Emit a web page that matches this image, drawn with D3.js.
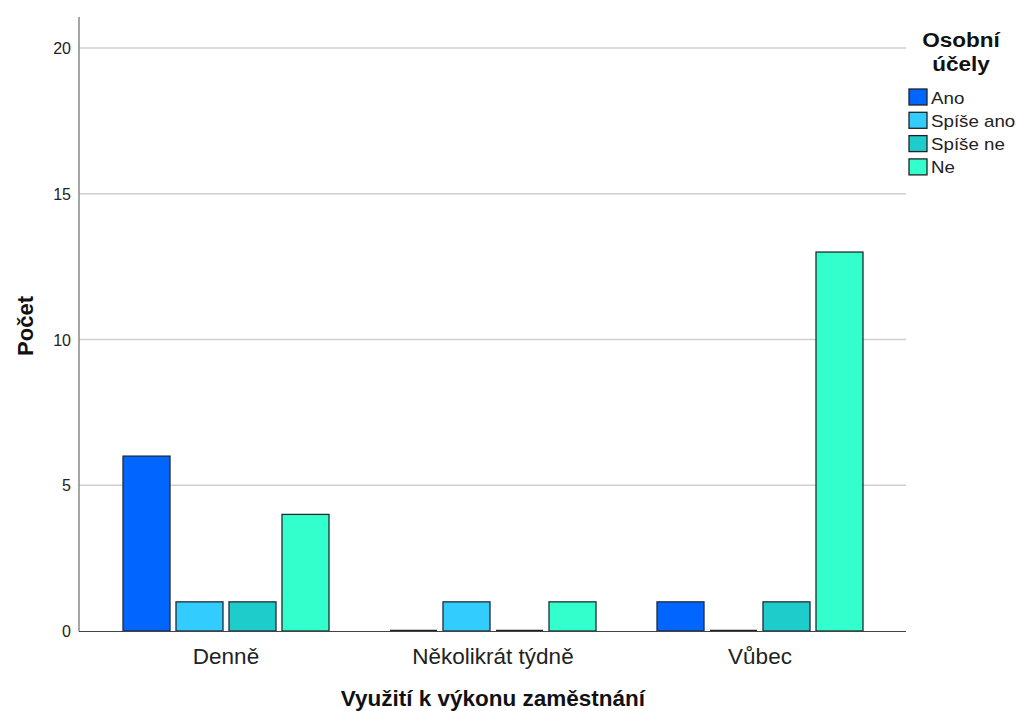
<!DOCTYPE html>
<html><head><meta charset="utf-8">
<script src="https://cdn.jsdelivr.net/npm/d3@7"></script>
<style>body{margin:0;background:#fff}svg{display:block;font-family:"Liberation Sans",Arial,sans-serif}</style>
</head><body>
<svg id="c" width="1016" height="711"></svg>
<script>
const categories = ["Denně", "Několikrát týdně", "Vůbec"];
const seriesNames = ["Ano", "Spíše ano", "Spíše ne", "Ne"];
const seriesColors = ["#0066ff", "#33ccff", "#1fcccc", "#33ffcc"];
const values = [
  [6, 0, 1],   // Ano
  [1, 1, 0],   // Spíše ano
  [1, 0, 1],   // Spíše ne
  [4, 1, 13]   // Ne
];
const yTicks = [0, 5, 10, 15, 20];

const svg = d3.select("#c");
const x0 = d3.scaleBand().domain(categories).range([92.5, 893.5]).paddingInner(0).paddingOuter(0);
const y = d3.scaleLinear().domain([0, 20]).range([631, 48]);
const slotW = 53, barW = 47;
const x1 = d3.scaleBand().domain(seriesNames).range([0, slotW * 4]);

// gridlines
svg.append("g").selectAll("line").data(yTicks.filter(d => d > 0)).join("line")
  .attr("x1", 79).attr("x2", 906).attr("y1", d => y(d)).attr("y2", d => y(d))
  .attr("stroke", "#cfcfcf").attr("stroke-width", 1.5);

// bars
const data = [];
seriesNames.forEach((s, i) => categories.forEach((c, j) => data.push({s, c, v: values[i][j], col: seriesColors[i]})));
const gx = c => x0(c) + (x0.bandwidth() - slotW * 4) / 2;
svg.append("g").selectAll("rect").data(data.filter(d => d.v > 0)).join("rect")
  .attr("x", d => gx(d.c) + x1(d.s) + (slotW - barW) / 2)
  .attr("y", d => y(d.v))
  .attr("width", barW)
  .attr("height", d => y(0) - y(d.v))
  .attr("fill", d => d.col)
  .attr("stroke", "#222a33").attr("stroke-width", 1.3);
// zero bars as lines
svg.append("g").selectAll("line").data(data.filter(d => d.v === 0)).join("line")
  .attr("x1", d => gx(d.c) + x1(d.s) + (slotW - barW) / 2)
  .attr("x2", d => gx(d.c) + x1(d.s) + (slotW - barW) / 2 + barW)
  .attr("y1", y(0) - 0.5).attr("y2", y(0) - 0.5)
  .attr("stroke", "#222").attr("stroke-width", 1.3);

// axes lines
svg.append("line").attr("x1", 79).attr("x2", 79).attr("y1", 17).attr("y2", 631.5)
  .attr("stroke", "#888").attr("stroke-width", 1.5);
svg.append("line").attr("x1", 79).attr("x2", 906).attr("y1", 631.5).attr("y2", 631.5)
  .attr("stroke", "#444").attr("stroke-width", 1.2);

// y tick labels
svg.append("g").selectAll("text").data(yTicks).join("text")
  .attr("x", 71).attr("y", d => y(d) + 6).attr("text-anchor", "end")
  .attr("font-size", 16).attr("fill", "#222").text(d => d);

// x category labels
svg.append("g").selectAll("text").data(categories).join("text")
  .attr("x", d => x0(d) + x0.bandwidth() / 2).attr("y", 664).attr("text-anchor", "middle")
  .attr("font-size", 22.5).attr("fill", "#222").text(d => d);

// axis titles
svg.append("text").attr("x", 493).attr("y", 706).attr("text-anchor", "middle")
  .attr("font-size", 22.5).attr("font-weight", "bold").attr("fill", "#111").text("Využití k výkonu zaměstnání");
svg.append("text").attr("transform", "translate(33,326) rotate(-90)").attr("text-anchor", "middle")
  .attr("font-size", 22).attr("font-weight", "bold").attr("fill", "#111").text("Počet");

// legend
const lg = svg.append("g");
lg.append("text").attr("transform", "translate(961,47) scale(1.1,1)").attr("text-anchor", "middle")
  .attr("font-size", 20.5).attr("font-weight", "bold").attr("fill", "#111").text("Osobní");
lg.append("text").attr("transform", "translate(961,71) scale(1.1,1)").attr("text-anchor", "middle")
  .attr("font-size", 20.5).attr("font-weight", "bold").attr("fill", "#111").text("účely");
const li = lg.selectAll("g.it").data(seriesNames).join("g").attr("class", "it")
  .attr("transform", (d, i) => `translate(909,${89 + i * 23.3})`);
li.append("rect").attr("width", 18).attr("height", 16)
  .attr("fill", (d, i) => seriesColors[i]).attr("stroke", "#222").attr("stroke-width", 1.3);
li.append("text").attr("transform", "translate(22,14.5) scale(1.17,1)")
  .attr("font-size", 16).attr("fill", "#222").text(d => d);
</script>
</body></html>
